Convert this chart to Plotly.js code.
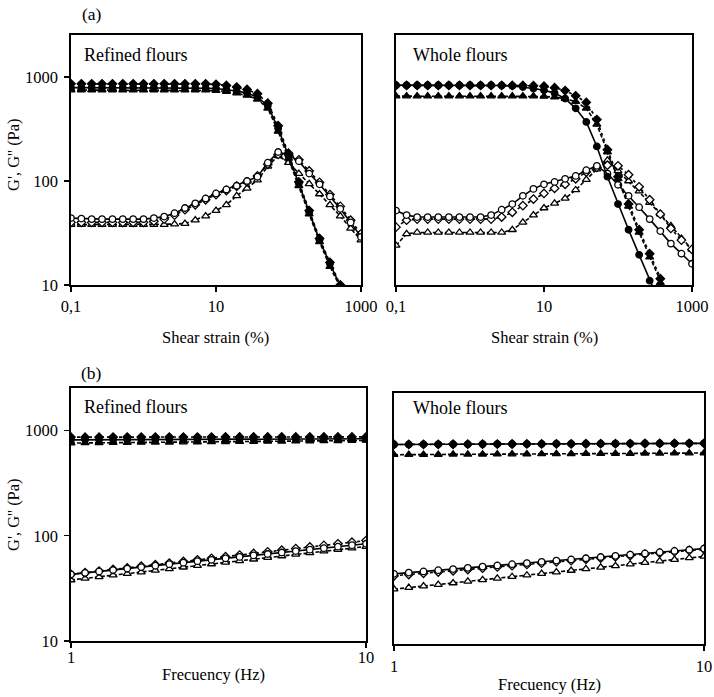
<!DOCTYPE html>
<html>
<head>
<meta charset="utf-8">
<script src="https://cdn.plot.ly/plotly-3.0.1.min.js"></script>
<style>html,body{margin:0;padding:0;background:#fff;}#chart{width:714px;height:697px;}</style>
</head>
<body>
<div id="chart"></div>
<script>
// ---- data ----
var strain = [0.1, 0.139, 0.193, 0.268, 0.373, 0.518, 0.72, 1, 1.39, 1.93, 2.68, 3.73, 5.18, 7.2, 10, 13.9, 19.3, 26.8, 37.3, 51.8, 72, 100, 139, 193, 268, 373, 518, 720, 1000];
var freq = [1, 1.116, 1.245, 1.389, 1.551, 1.73, 1.931, 2.154, 2.404, 2.683, 2.994, 3.341, 3.728, 4.16, 4.642, 5.18, 5.78, 6.45, 7.197, 8.031, 8.962, 10];

// (a) refined flours, amplitude sweep
var refA_Gp_circle  = [790,790,790,790,790,790,790,790,790,790,790,790,785,780,775,760,735,700,640,530,320,175,95,50,27,16,9.8];
var refA_Gp_diamond = [860,860,860,860,860,860,860,860,860,860,860,860,860,860,850,830,800,760,690,560,340,180,98,52,28,16.5,10];
var refA_Gp_tri     = [750,750,750,750,750,750,750,750,750,750,750,750,750,750,740,725,700,665,610,500,300,165,90,48,26,15,9.5];
var refA_Gpp_circle  = [44,43.5,43,43,43,43,43,43,44,45.5,49,55,61,68,76,83,90,100,110,150,190,178,155,118,93,71,54,40,29];
var refA_Gpp_diamond = [40,40,40,40,40,40,40,40,41,43,47,53,59,66,74,81,89,98,112,145,180,185,160,125,97,74,57,42,31];
var refA_Gpp_tri     = [38,38,38,38,38,38,38,38,38,38,38.5,39,42,46,52,59,72,85,102,138,175,150,118,94,75,59,46,35,27];

// (a) whole flours, amplitude sweep
var wholeA_Gp_circle  = [835,835,835,835,835,835,835,835,835,835,830,820,800,775,745,700,620,500,370,215,110,60,34,19.5,11,6.5];
var wholeA_Gp_diamond = [830,830,830,830,830,830,830,830,830,830,830,830,830,825,815,790,740,660,570,390,200,110,60,34,20,11.5,7];
var wholeA_Gp_tri     = [655,655,655,655,655,655,655,655,655,655,655,655,655,655,650,640,620,580,500,350,190,105,57,32,18.5,10.5,6.5];
var wholeA_Gpp_circle  = [52,47,45,45,45,45,45,45,45,47,53,60,72,84,93,98,105,112,127,140,118,92,72,56,43,33,25,20,16];
var wholeA_Gpp_diamond = [36,42,43,43,43,43,43,43,43,43,45,50,58,67,76,85,93,105,122,135,142,140,115,88,66,48,35,27,22];
var wholeA_Gpp_tri     = [24,31,32,32,32,32,32,32,32,32,32,34,40,47,55,61,68,82,103,130,158,125,100,80,62,48,37,28,22];

// (b) refined flours, frequency sweep
var refB_Gp_circle  = [815,816,817,818,819,820,821,822,823,824,825,826,827,828,829,830,831,832,833,834,835,835];
var refB_Gp_diamond = [865,865,865,866,866,866,866,867,867,867,867,868,868,868,868,869,869,869,869,870,870,870];
var refB_Gp_tri     = [760,762,764,766,768,770,772,774,776,778,780,782,784,786,788,790,792,794,796,799,802,805];
var refB_Gpp_circle  = [43,44.4,45.8,47.3,48.8,50.4,52.0,53.7,55.5,57.3,59.1,61.0,63.0,65.0,67.1,69.3,71.5,73.8,76.2,78.7,81.3,84];
var refB_Gpp_diamond = [43,44.5,46.1,47.8,49.5,51.3,53.1,55.0,57.0,59.0,61.1,63.3,65.6,67.9,70.3,72.9,75.5,78.2,81.0,83.9,86.9,90];
var refB_Gpp_tri     = [38,39.3,40.7,42.2,43.7,45.2,46.8,48.5,50.2,52.0,53.9,55.8,57.8,59.8,62.0,64.2,66.5,68.8,71.3,73.8,76.4,79];

// (b) whole flours, frequency sweep
var wholeB_Gp_circle  = [815,816,817,818,819,820,821,822,823,824,825,826,827,828,829,830,831,832,833,834,835,835];
var wholeB_Gp_diamond = [815,816,817,818,819,820,821,822,823,824,825,826,827,828,829,830,831,832,833,834,835,835];
var wholeB_Gp_tri     = [650,651,652,653,655,656,657,658,659,660,661,663,664,665,666,667,668,670,671,672,674,675];
var wholeB_Gpp_circle  = [47,48.3,49.6,50.9,52.2,53.6,55.1,56.6,58.1,59.6,61.2,62.9,64.6,66.3,68.1,69.9,71.8,73.7,75.7,77.8,79.9,82];
var wholeB_Gpp_diamond = [45,46.3,47.6,48.9,50.3,51.7,53.2,54.7,56.2,57.8,59.5,61.2,62.9,64.7,66.5,68.4,70.4,72.4,74.4,76.6,78.7,81];
var wholeB_Gpp_tri     = [33.5,34.7,35.9,37.1,38.4,39.8,41.2,42.6,44.1,45.6,47.2,48.9,50.6,52.4,54.2,56.1,58.1,60.1,62.2,64.4,66.7,69];

var xTickVals = [0.1, 10, 1000];
var xTickText = ['0,1', '10', '1000'];
var fTickVals = [1, 10];
var fTickText = ['1', '10'];
var yTickVals = [10, 100, 1000];
var yTickText = ['10', '100', '1000'];

// ---- styles ----
var styles = {
  circle:  {symbol: 'circle', dash: 'solid', size: 6.5},
  diamond: {symbol: 'diamond', dash: 'dot', size: 6.5},
  tri:     {symbol: 'triangle-up', dash: '4px,2px', size: 7}
};
function tr(x, y, kind, filled, ax) {
  var s = styles[kind];
  return {
    x: x.slice(0, y.length), y: y, type: 'scatter', mode: 'lines+markers',
    xaxis: ax[0], yaxis: ax[1], showlegend: false, cliponaxis: true,
    line: {color: '#000', width: 1.6, dash: s.dash},
    marker: {symbol: s.symbol, size: s.size, color: filled ? '#000' : '#fff',
             line: {color: '#000', width: 1.3}}
  };
}
var traces = [];
function panel(x, set, ax) {
  traces.push(tr(x, set[3], 'tri', false, ax));
  traces.push(tr(x, set[4], 'diamond', false, ax));
  traces.push(tr(x, set[5], 'circle', false, ax));
  traces.push(tr(x, set[2], 'tri', true, ax));
  traces.push(tr(x, set[1], 'diamond', true, ax));
  traces.push(tr(x, set[0], 'circle', true, ax));
}
panel(strain, [refA_Gp_circle, refA_Gp_diamond, refA_Gp_tri, refA_Gpp_tri, refA_Gpp_diamond, refA_Gpp_circle], ['x', 'y']);
panel(strain, [wholeA_Gp_circle, wholeA_Gp_diamond, wholeA_Gp_tri, wholeA_Gpp_tri, wholeA_Gpp_diamond, wholeA_Gpp_circle], ['x2', 'y2']);
panel(freq, [refB_Gp_circle, refB_Gp_diamond, refB_Gp_tri, refB_Gpp_tri, refB_Gpp_diamond, refB_Gpp_circle], ['x3', 'y3']);
panel(freq, [wholeB_Gp_circle, wholeB_Gp_diamond, wholeB_Gp_tri, wholeB_Gpp_tri, wholeB_Gpp_diamond, wholeB_Gpp_circle], ['x4', 'y4']);

var W = 714, H = 697;
var FONT = 'Liberation Serif, Times New Roman, serif';
function px(a) { return a / W; }
function py(b) { return 1 - b / H; }

function xa(x0, x1, rng, tv, tt, anchor, standoff) {
  return {type: 'log', range: rng, domain: [px(x0), px(x1)], anchor: anchor,
    tickvals: tv, ticktext: tt, ticks: 'outside', ticklen: 5, tickwidth: 1.4, tickcolor: '#000',
    ticklabelstandoff: standoff || 0,
    showline: true, mirror: true, linecolor: '#000', linewidth: 1.8,
    showgrid: false, zeroline: false, fixedrange: true,
    tickfont: {family: FONT, size: 16.5, color: '#000'}};
}
function ya(y0, y1, labels, anchor) {
  return {type: 'log', range: [1, 3.404], domain: [py(y1), py(y0)], anchor: anchor,
    tickvals: yTickVals, ticktext: yTickText, showticklabels: labels,
    ticks: labels ? 'outside' : '', ticklen: 5, tickwidth: 1.4, tickcolor: '#000',
    ticklabelstandoff: 3,
    showline: true, mirror: true, linecolor: '#000', linewidth: 1.8,
    showgrid: false, zeroline: false, fixedrange: true,
    tickfont: {family: FONT, size: 16.5, color: '#000'}};
}

function ann(text, x, y, xanchor, size, angle) {
  return {text: text, xref: 'paper', yref: 'paper', x: px(x), y: py(y),
    xanchor: xanchor, yanchor: 'middle', showarrow: false, textangle: angle || 0,
    font: {family: FONT, size: size, color: '#000'}};
}

var layout = {
  width: W, height: H, margin: {l: 0, r: 0, t: 0, b: 0},
  paper_bgcolor: '#fff', plot_bgcolor: '#fff', showlegend: false,
  font: {family: FONT, color: '#000'},
  xaxis:  xa(71, 361, [-1, 3], xTickVals, xTickText, 'y', 0),
  yaxis:  ya(35, 285, true, 'x'),
  xaxis2: xa(396, 692, [-1, 3], xTickVals, xTickText, 'y2', 0),
  yaxis2: ya(35, 285, false, 'x2'),
  xaxis3: xa(71, 366, [0, 1], fTickVals, fTickText, 'y3', -5),
  yaxis3: ya(388, 641, true, 'x3'),
  xaxis4: xa(394, 704, [0, 1], fTickVals, fTickText, 'y4', 1),
  yaxis4: ya(393, 644, false, 'x4'),
  annotations: [
    ann('(a)', 92, 14, 'center', 17.5),
    ann('(b)', 92, 373, 'center', 17.5),
    ann('Refined flours', 82, 55, 'left', 18),
    ann('Whole flours', 411, 55, 'left', 18),
    ann('Refined flours', 82, 407, 'left', 18),
    ann('Whole flours', 411, 408, 'left', 18),
    ann('Shear strain (%)', 216, 337, 'center', 16.5),
    ann('Shear strain (%)', 544, 337, 'center', 16.5),
    ann('Frecuency (Hz)', 213, 674, 'center', 16.5),
    ann('Frecuency (Hz)', 549, 684, 'center', 16.5),
    ann("G', G'' (Pa)", 13, 155, 'center', 16.5, -90),
    ann("G', G'' (Pa)", 13, 515, 'center', 16.5, -90)
  ]
};

Plotly.newPlot('chart', traces, layout, {displayModeBar: false, staticPlot: true});
</script>
</body>
</html>
